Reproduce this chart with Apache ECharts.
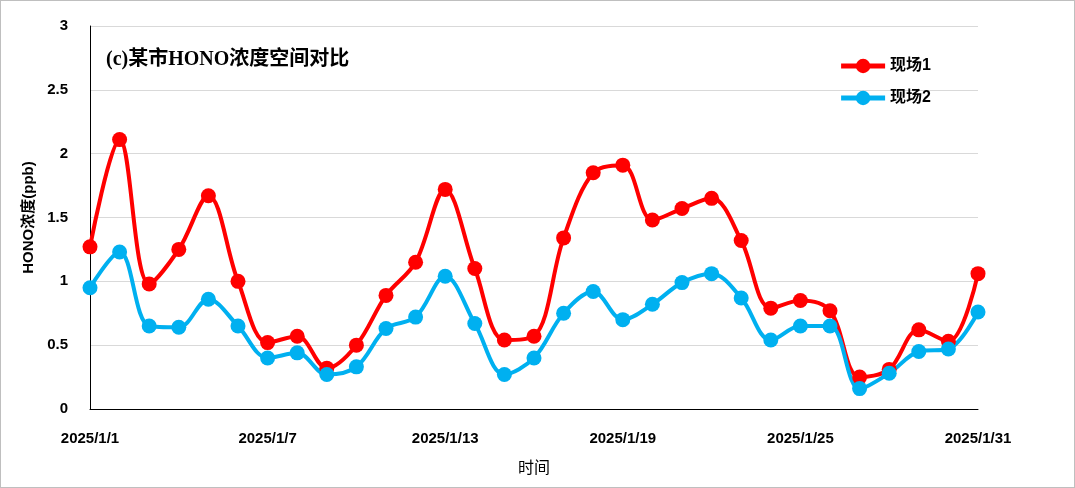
<!DOCTYPE html>
<html>
<head>
<meta charset="utf-8">
<script src="https://cdn.jsdelivr.net/npm/echarts@6/dist/echarts.min.js"></script>
<style>
  html, body { margin: 0; padding: 0; background: #fff; }
  #main { width: 1073px; height: 486px; border: 1px solid #bfbfbf; }
</style>
</head>
<body>
<div id="main"></div>
<script type="text/javascript">
    var days = [];
    for (var d = 1; d <= 31; d++) { days.push('2025/1/' + d); }
    var site1 = [1.27, 2.11, 0.98, 1.25, 1.67, 1.0, 0.52, 0.57, 0.32, 0.5, 0.89, 1.15, 1.72, 1.1, 0.54, 0.57,
                 1.34, 1.85, 1.91, 1.48, 1.57, 1.65, 1.32, 0.79, 0.85, 0.77, 0.25, 0.31, 0.62, 0.53, 1.06];
    var site2 = [0.95, 1.23, 0.65, 0.64, 0.86, 0.65, 0.40, 0.44, 0.27, 0.33, 0.63, 0.72, 1.04, 0.67, 0.27, 0.40,
                 0.75, 0.92, 0.70, 0.82, 0.99, 1.06, 0.87, 0.54, 0.65, 0.65, 0.16, 0.28, 0.45, 0.47, 0.76];

    var myChart = echarts.init(document.getElementById('main'));
    var font = { fontFamily: 'Liberation Sans, Noto Sans CJK SC', fontWeight: 'bold', color: '#000' };
    var option = {
        animation: false,
        backgroundColor: '#fff',
        title: {
            text: '(c)某市HONO浓度空间对比',
            left: 100, top: 44,
            textStyle: { fontFamily: 'Liberation Serif, Noto Sans CJK SC', fontWeight: 'bold', fontSize: 20, color: '#000' }
        },
        legend: {
            orient: 'vertical',
            right: 138, top: 52,
            itemWidth: 44, itemHeight: 18, itemGap: 16,
            textStyle: Object.assign({ fontSize: 16 }, font),
            lineStyle: { width: 5 },
            data: ['现场1', '现场2']
        },
        grid: { left: 89, right: 96, top: 25, bottom: 78 },
        xAxis: {
            type: 'category',
            data: days,
            boundaryGap: false,
            name: '时间',
            nameLocation: 'middle',
            nameGap: 50,
            nameTextStyle: { fontSize: 16, fontFamily: 'Noto Sans CJK SC', color: '#000' },
            axisLine: { lineStyle: { color: '#000' } },
            axisTick: { show: false },
            axisLabel: Object.assign({ fontSize: 15, interval: 5, margin: 22 }, font),
            splitLine: { show: false }
        },
        yAxis: {
            type: 'value',
            min: 0, max: 3, interval: 0.5,
            name: 'HONO浓度(ppb)',
            nameLocation: 'middle',
            nameGap: 52,
            nameTextStyle: Object.assign({ fontSize: 15 }, font),
            axisLine: { show: true, lineStyle: { color: '#000' } },
            axisTick: { show: false },
            axisLabel: Object.assign({ fontSize: 15, margin: 22 }, font),
            splitLine: { lineStyle: { color: '#d9d9d9' } }
        },
        series: [
            {
                name: '现场1', type: 'line', data: site1, smooth: 0.35,
                symbol: 'circle', symbolSize: 15,
                lineStyle: { width: 4, color: '#ff0000' },
                itemStyle: { color: '#ff0000' }
            },
            {
                name: '现场2', type: 'line', data: site2, smooth: 0.35,
                symbol: 'circle', symbolSize: 15,
                lineStyle: { width: 4, color: '#00b0f0' },
                itemStyle: { color: '#00b0f0' }
            }
        ]
    };
    myChart.setOption(option, true);
</script>
</body>
</html>
